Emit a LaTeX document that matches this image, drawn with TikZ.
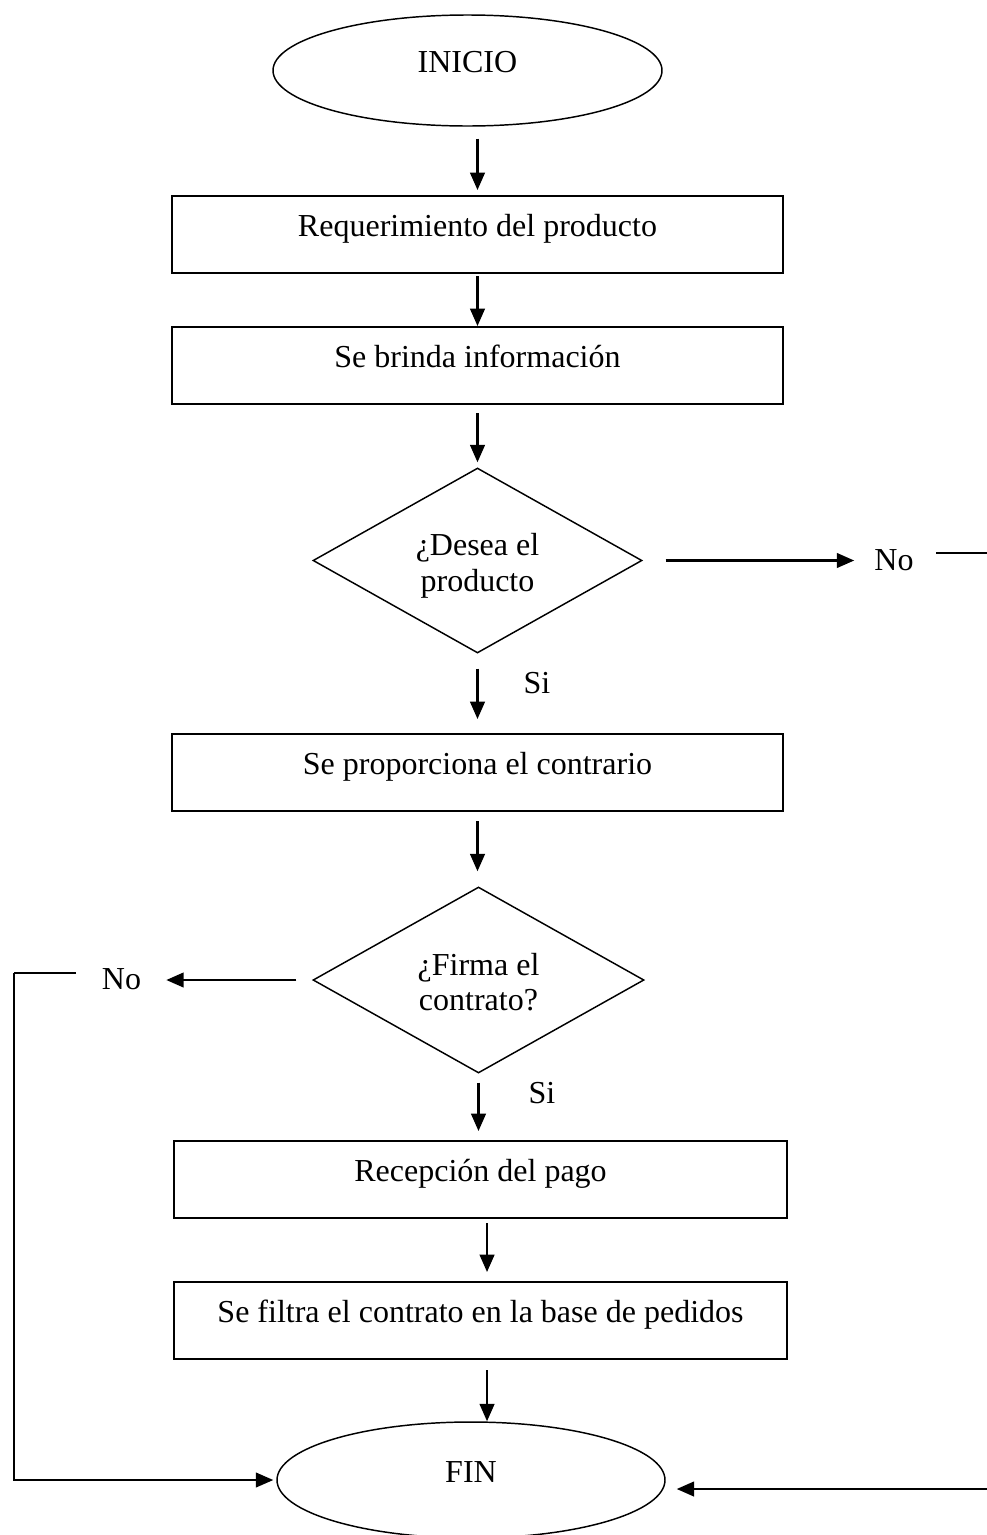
\documentclass[tikz,border=0pt]{standalone}
\usepackage{fontspec}
\setmainfont{Liberation Serif}
\usetikzlibrary{shapes.geometric,arrows.meta}
\newcommand{\dtext}[2]{\raisebox{-4.5pt}[\height][\depth]{\setlength{\tabcolsep}{0pt}\begin{tabular}{c}#1\\#2\end{tabular}}}
\begin{document}
\begin{tikzpicture}[x=0.75pt,y=-0.75pt,
  every node/.style={font=\fontsize{24}{26.5}\selectfont},
  txt/.style={text height=18pt, text depth=14.4pt},
  stepbox/.style={draw, line width=1.5pt, minimum width=458pt, minimum height=57.75pt, inner sep=0pt, txt},
  term/.style={draw, ellipse, line width=1.1pt, minimum width=291.75pt, minimum height=83.25pt, inner sep=0pt, txt},
  decision/.style={draw, diamond, line width=1.1pt, aspect=2, inner sep=0pt, minimum width=246.75pt, minimum height=138.75pt},
  lbl/.style={inner sep=0pt, txt},
  arr/.style={line width=1.6pt, -{Triangle[length=13pt,width=11pt]}},
  ln/.style={line width=1.3pt},
]
\useasboundingbox (0,0) rectangle (987,1535);

\node[term] (ini) at (467.5,70.5) {INICIO};
\node[stepbox] (b1) at (477.5,234.5) {Requerimiento del producto};
\node[stepbox] (b2) at (477.5,365.5) {Se brinda información};
\node[decision] (d1) at (477.5,560.5) {\dtext{¿Desea el}{producto}};
\node[stepbox] (b3) at (477.5,772.5) {Se proporciona el contrario};
\node[decision, minimum width=248.25pt, minimum height=139.5pt] (d2) at (478.5,980) {\dtext{¿Firma el}{contrato?}};
\node[stepbox, minimum width=459.75pt] (b4) at (480.5,1179.5) {Recepción del pago};
\node[stepbox, minimum width=459.75pt] (b5) at (480.5,1320.5) {Se filtra el contrato en la base de pedidos};
\node[term, minimum width=291pt, minimum height=87pt] (fin) at (471,1480) {FIN};

\node[lbl] (si1) at (537,690.6) {Si};
\node[lbl] (si2) at (542,1100.6) {Si};
\node[lbl] (no1) at (894,567.6) {No};
\node[lbl] (no2) at (121.5,986.6) {No};

\coordinate (r0) at (936,553);
\coordinate (r1) at (987,553);
\coordinate (r2) at (987,1489);
\coordinate (l0) at (76,973);
\coordinate (l1) at (14,973);

% main flow
\draw[arr, shorten <=9pt, shorten >=3.75pt] (ini.south -| b1.north) -- (b1.north);
\draw[arr, shorten <=1.5pt] (b1.south) -- (b2.north);
\draw[arr, shorten <=6pt, shorten >=3.75pt] (b2.south) -- (d1.north);
\draw[arr, shorten <=11.25pt, shorten >=10.5pt] (d1.south) -- (b3.north);
\draw[arr, shorten <=6.75pt, shorten >=11.25pt] (b3.south) -- (b3.south |- d2.north);
\draw[arr, shorten <=6.75pt, shorten >=6.75pt] (d2.south) -- (d2.south |- b4.north);
\draw[arr, shorten <=3pt, shorten >=6.75pt] ([xshift=4.9pt]b4.south) -- ([xshift=4.9pt]b5.north);
\draw[arr, shorten <=7.5pt] ([xshift=4.9pt]b5.south) -- ([xshift=4.9pt]b5.south |- fin.north);

% No branches
\draw[arr, shorten <=17.25pt, shorten >=15pt] (d1.east) -- (d1.east -| no1.west);
\draw[ln] (r0) -- (r1);
\draw[arr, shorten <=12pt, shorten >=18.75pt] (d2.west) -- (d2.west -| no2.east);
\draw[ln] (l0) -- (l1);
\draw[arr, line width=1.3pt, shorten >=2.25pt] (l1) |- (fin.west);
\draw[arr, shorten >=8.25pt] (r2) -- (r2 -| fin.east);
\end{tikzpicture}
\end{document}
